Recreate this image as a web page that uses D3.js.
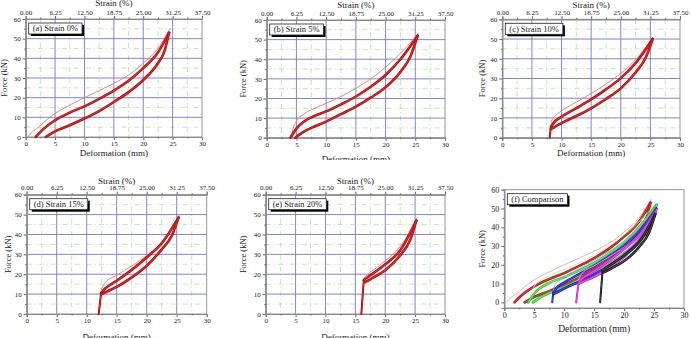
<!DOCTYPE html>
<html>
<head>
<meta charset="utf-8">
<script src="https://cdn.jsdelivr.net/npm/d3@7"></script>
<style>
  body { margin: 0; background: #fff; }
  text { font-family: "Liberation Serif", "DejaVu Serif", serif; fill: #222; }
</style>
</head>
<body>
<div id="chart"></div>
<script>
// axis ticks
var defTicks = [0, 5, 10, 15, 20, 25, 30];
var defMinor = [2.5, 7.5, 12.5, 17.5, 22.5, 27.5];
var strainLabels = ["0.00", "6.25", "12.50", "18.75", "25.00", "31.25", "37.50"];
var forceTicks = [0, 10, 20, 30, 40, 50, 60];
var forceMinor = [5, 15, 25, 35, 45, 55];
var panelTitles = ["(a) Strain 0%", "(b) Strain 5%", "(c) Strain 10%", "(d) Strain 15%", "(e) Strain 20%", "(f) Comparison"];

// curves: [deformation mm, force kN]
var s0Initial = [];
var s0First = [[0.3, 0], [1.2, 2.8], [2.4, 5.5], [3.5, 8.5], [5, 12], [7.5, 16.2], [10, 20], [12.5, 23.6], [15, 27.3], [17.5, 31.5], [20, 37.5], [22.5, 45], [24.5, 55]];
var s0Load = [[1.7, 0], [3, 4], [5, 8.5], [7.5, 12.4], [10, 15.6], [12.5, 19.4], [15, 23.6], [17.5, 28.6], [20, 35], [22.5, 43], [24.4, 53]];
var s0Unload = [[3.4, 0], [5, 2.9], [7.5, 6], [10, 9.4], [12.5, 13.2], [15, 17.8], [17.5, 22.8], [20, 29], [22.5, 37.5], [23.6, 43.5], [24.4, 53]];

var s5Initial = [];
var s5First = [[4.2, 0], [4.4, 4], [5, 8.5], [6, 11.5], [7.5, 14.2], [10, 17.5], [12.5, 21], [15, 25.2], [17.5, 30], [20, 36], [22.5, 43], [25.5, 53]];
var s5Load = [[4.0, 0], [5, 4.6], [6, 7.6], [7.5, 10.4], [10, 13.4], [12.5, 17], [15, 21], [17.5, 26], [20, 32], [22.5, 40], [25.4, 52]];
var s5Unload = [[4.8, 0], [6, 2.6], [7.5, 5], [10, 8.2], [12.5, 12], [15, 15.8], [17.5, 20.4], [20, 25.7], [22.5, 33.5], [24.2, 41.5], [25.4, 52]];

var s10Initial = [[8.0, 0], [8.2, 6]];
var s10First = [[8.2, 6], [8.4, 9], [9, 11.2], [10, 13.6], [12.5, 18], [15, 22.4], [17.5, 27.2], [20, 32.6], [22.5, 39.5], [25.4, 51]];
var s10Load = [[8.2, 4.5], [8.6, 7.2], [10, 10.6], [12.5, 15], [15, 19.4], [17.5, 24.5], [20, 30.2], [22.5, 37.8], [25.4, 50]];
var s10Unload = [[8.3, 4.5], [10, 7.4], [12.5, 11], [15, 14.9], [17.5, 19.6], [20, 25], [22.5, 33], [24.2, 40.5], [25.4, 50]];

var s15Initial = [[12.0, 0], [12.4, 10.5]];
var s15First = [[12.4, 12], [13, 15.5], [15, 19.5], [17.5, 24.2], [20, 29.4], [22.5, 36.2], [25.4, 49.5]];
var s15Load = [[12.4, 10.5], [13, 12.6], [15, 16.7], [17.5, 22.2], [20, 28.4], [22.5, 35.6], [25.3, 48.5]];
var s15Unload = [[12.5, 10], [13, 10.8], [15, 13.6], [17.5, 18.4], [20, 24.3], [22.5, 32.5], [24.2, 39.5], [25.3, 48.5]];

var s20Initial = [[16.0, 0], [16.4, 16.5]];
var s20First = [[16.4, 18], [17, 19.8], [18.5, 23.2], [20, 26.8], [22.5, 34], [25.3, 48]];
var s20Load = [[16.4, 17], [17, 18.4], [18.5, 21.6], [20, 25], [22.5, 32], [25.2, 47]];
var s20Unload = [[16.6, 16], [17.5, 17.4], [18.5, 19.2], [20, 22], [22.5, 29.5], [24.2, 37.5], [25.2, 47]];

var sets = [
  { initial: s0Initial, first: s0First, load: s0Load, unload: s0Unload },
  { initial: s5Initial, first: s5First, load: s5Load, unload: s5Unload },
  { initial: s10Initial, first: s10First, load: s10Load, unload: s10Unload },
  { initial: s15Initial, first: s15First, load: s15Load, unload: s15Unload },
  { initial: s20Initial, first: s20First, load: s20Load, unload: s20Unload }
];

// colours for the comparison plot (outer, inner, first loading)
var compColors = [
  ["#a81818", "#d83a3a", "#e8a4a4"],
  ["#22c022", "#66f066", "#aaf0aa"],
  ["#2222b8", "#4646f0", "#a6a6f0"],
  ["#c020c0", "#f050f0", "#f0a6f0"],
  ["#111111", "#4a4a4a", "#999999"]
];

// panel frames in pixels
var layout = [
  { l: 25.7, r: 202, t: 19, b: 137, stY: 5.5, xtY: 156, yt: 4 },
  { l: 266.7, r: 445, t: 20, b: 137.7, stY: 8, xtY: 162, yt: 243, clipB: 160 },
  { l: 502.3, r: 680, t: 19.3, b: 137.7, stY: 8, xtY: 156, yt: 482 },
  { l: 26.7, r: 206.7, t: 194.7, b: 314, stY: 183.5, xtY: 339.5, yt: 8 },
  { l: 265.7, r: 445, t: 194.7, b: 314, stY: 183.5, xtY: 339.5, yt: 243 },
  { l: 504.3, r: 684, t: 189.7, b: 308, xtY: 332, yt: 482 }
];

var W = 691, H = 338;
var svg = d3.select("#chart").append("svg").attr("width", W).attr("height", H);

svg.append("clipPath").attr("id", "clipB")
  .append("rect").attr("x", 230).attr("y", 0).attr("width", 230).attr("height", 160);

function drawPanel(i) {
  var p = layout[i];
  var isComp = (i === 5);
  var x = d3.scaleLinear().domain([0, 30]).range([p.l, p.r]);
  var y = d3.scaleLinear().domain(isComp ? [-3, 60] : [0, 60]).range([p.b, p.t]);
  var g = svg.append("g");

  if (!isComp) {
    // minor dashed green grid
    g.selectAll(".mgx").data(defMinor).enter().append("line")
      .attr("x1", d => x(d)).attr("x2", d => x(d)).attr("y1", p.t).attr("y2", p.b)
      .attr("stroke", "#a6dca6").attr("stroke-width", 0.7).attr("stroke-dasharray", "5,3,1,3");
    g.selectAll(".mgy").data(forceMinor).enter().append("line")
      .attr("y1", d => y(d)).attr("y2", d => y(d)).attr("x1", p.l).attr("x2", p.r)
      .attr("stroke", "#a6dca6").attr("stroke-width", 0.7).attr("stroke-dasharray", "5,3,1,3");
    // major blue grid
    g.selectAll(".gx").data(defTicks.slice(1, -1)).enter().append("line")
      .attr("x1", d => x(d)).attr("x2", d => x(d)).attr("y1", p.t).attr("y2", p.b)
      .attr("stroke", "#7676cc").attr("stroke-width", 0.9);
    g.selectAll(".gy").data(forceTicks.slice(1, -1)).enter().append("line")
      .attr("y1", d => y(d)).attr("y2", d => y(d)).attr("x1", p.l).attr("x2", p.r)
      .attr("stroke", "#7676cc").attr("stroke-width", 0.9);
  }

  // frame
  g.append("rect").attr("x", p.l).attr("y", p.t).attr("width", p.r - p.l).attr("height", p.b - p.t)
    .attr("fill", "none").attr("stroke", "#8a8a8a").attr("stroke-width", 0.9);

  // axes
  g.append("g").attr("transform", "translate(" + p.l + ",0)")
    .call(d3.axisLeft(y).tickValues(forceTicks).tickSize(3).tickPadding(2));
  g.append("g").attr("transform", "translate(" + p.l + ",0)")
    .call(d3.axisLeft(y).tickValues(forceMinor).tickSize(1.5).tickFormat(""));
  g.append("g").attr("transform", "translate(0," + p.b + ")")
    .call(d3.axisBottom(x).tickValues(defTicks).tickSize(3).tickPadding(1.5));
  g.append("g").attr("transform", "translate(0," + p.b + ")")
    .call(d3.axisBottom(x).tickValues(defMinor).tickSize(1.5).tickFormat(""));
  if (!isComp) {
    g.append("g").attr("transform", "translate(0," + p.t + ")")
      .call(d3.axisTop(x).tickValues(defTicks).tickSize(3).tickPadding(1.5)
        .tickFormat((d, k) => strainLabels[k]));
    g.append("g").attr("transform", "translate(0," + p.t + ")")
      .call(d3.axisTop(x).tickValues(defMinor).tickSize(1.5).tickFormat(""));
    g.append("text").attr("x", (p.l + p.r) / 2).attr("y", p.stY)
      .attr("text-anchor", "middle").style("font-size", "9px").text("Strain (%)");
  }
  g.selectAll(".domain").attr("stroke", "#8a8a8a");
  g.selectAll(".tick line").attr("stroke", "#666");
  g.selectAll(".tick text").style("font-size", isComp ? "8px" : "7px")
    .style("font-family", "'Liberation Serif', serif").attr("fill", "#333");

  var xt = g.append("text").attr("x", (p.l + p.r) / 2).attr("y", p.xtY)
    .attr("text-anchor", "middle").style("font-size", isComp ? "9.5px" : "9px").text("Deformation (mm)");
  if (p.clipB) xt.attr("clip-path", "url(#clipB)");
  g.append("text").attr("transform", "translate(" + (p.yt + 3) + "," + ((p.t + p.b) / 2) + ") rotate(-90)")
    .attr("text-anchor", "middle").style("font-size", "8.5px").text("Force (kN)");

  var smooth = d3.line().x(d => x(d[0])).y(d => y(d[1])).curve(d3.curveMonotoneX);
  var straight = d3.line().x(d => x(d[0])).y(d => y(d[1]));

  function drawSet(s, cols) {
    var c = g.append("g").attr("fill", "none").attr("stroke-linecap", "round");
    if (s.initial.length) {
      c.append("path").attr("d", straight(s.initial)).attr("stroke", cols[0]).attr("stroke-width", 2);
      c.append("path").attr("d", straight(s.initial)).attr("stroke", cols[1]).attr("stroke-width", 0.8);
    }
    c.append("path").attr("d", smooth(s.first)).attr("stroke", cols[2]).attr("stroke-width", 0.9);
    [s.load, s.unload].forEach(function (arr) {
      c.append("path").attr("d", smooth(arr)).attr("stroke", cols[0]).attr("stroke-width", 2.6);
      c.append("path").attr("d", smooth(arr)).attr("stroke", cols[1]).attr("stroke-width", 1.1);
    });
  }

  if (isComp) {
    sets.forEach((s, k) => drawSet(s, compColors[k]));
  } else {
    drawSet(sets[i], ["#a41010", "#e42626", "#e07a7a"]);
  }

  // legend box with shadow
  var lg = g.append("g").attr("transform", "translate(" + (p.l + 3) + "," + (p.t + 4) + ")");
  var shadow = lg.append("rect").attr("fill", "#000");
  var box = lg.append("rect").attr("fill", "#fff").attr("stroke", "#222").attr("stroke-width", 0.8);
  var lt = lg.append("text").attr("x", 4).attr("y", 8.3).style("font-size", "8.5px").text(panelTitles[i]);
  var w = lt.node().getComputedTextLength() + 8;
  box.attr("width", w).attr("height", 11);
  shadow.attr("x", 2).attr("y", 2).attr("width", w).attr("height", 11);
}

for (var i = 0; i < 6; i++) drawPanel(i);
</script>
</body>
</html>
